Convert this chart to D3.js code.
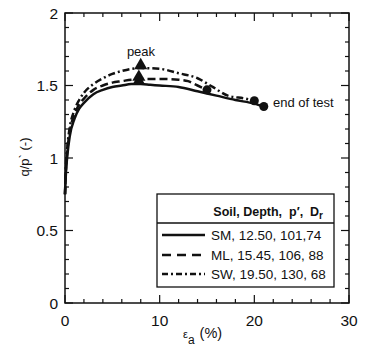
<!DOCTYPE html>
<html><head><meta charset="utf-8">
<script src="https://cdn.jsdelivr.net/npm/d3@7"></script>
<style>body{margin:0;background:#fff}svg{display:block}text{font-family:"Liberation Sans",Arial,sans-serif;fill:#111}</style>
</head><body>
<script>
const strainSM = [0,0.1,0.25,0.5,1,1.5,2,3,4,5,6,7,8,9,10,12,14,16,18,20,21];
const qpSM     = [0.75,0.9,1.02,1.15,1.27,1.34,1.38,1.44,1.47,1.49,1.50,1.51,1.51,1.505,1.50,1.49,1.46,1.43,1.40,1.375,1.355];
const strainML = [0,0.1,0.25,0.5,1,1.5,2,3,4,5,6,7,8,10,12,13,14,15];
const qpML     = [0.75,0.92,1.05,1.18,1.30,1.37,1.41,1.47,1.50,1.52,1.53,1.54,1.545,1.545,1.54,1.53,1.50,1.47];
const strainSW = [0,0.1,0.25,0.5,1,1.5,2,3,4,5,6,7,8,10,12,14,15.6,17.2,19,20];
const qpSW     = [0.75,0.95,1.08,1.21,1.33,1.40,1.45,1.51,1.55,1.58,1.60,1.615,1.62,1.615,1.585,1.55,1.49,1.43,1.41,1.395];
const peakStrain = [7.8,7.8,8.0];
const peakQp = [1.515,1.545,1.625];
const endStrain = [21,15,20];
const endQp = [1.355,1.47,1.395];
const seriesNames = ["SM, 12.50, 101,74","ML, 15.45, 106, 88","SW, 19.50, 130, 68"];
const xTicks = [0,10,20,30];
const yTicks = [0,0.5,1,1.5,2];
const yTickLabels = ["0","0.5","1","1.5","2"];

const W=366,H=364;
const svg=d3.select("body").append("svg").attr("width",W).attr("height",H);
const x=d3.scaleLinear().domain([0,30]).range([65,349]);
const y=d3.scaleLinear().domain([0,2]).range([303,13]);

const g=svg.append("g");
const xMinor=d3.range(0,30.001,2);
const yMinor=d3.range(0,2.0001,0.1);
const tk=g.append("g").attr("stroke","#111").attr("stroke-width",1.2);
xMinor.forEach(v=>{
  const major = xTicks.some(t=>Math.abs(t-v)<1e-6);
  const L = major?8:4;
  tk.append("line").attr("x1",x(v)).attr("x2",x(v)).attr("y1",y(0)).attr("y2",y(0)-L);
  tk.append("line").attr("x1",x(v)).attr("x2",x(v)).attr("y1",y(2)).attr("y2",y(2)+L);
});
yMinor.forEach(v=>{
  const major = yTicks.some(t=>Math.abs(t-v)<1e-6);
  const L = major?8:4;
  tk.append("line").attr("y1",y(v)).attr("y2",y(v)).attr("x1",x(0)).attr("x2",x(0)+L);
  tk.append("line").attr("y1",y(v)).attr("y2",y(v)).attr("x1",x(30)).attr("x2",x(30)-L);
});
g.append("rect").attr("x",x(0)).attr("y",y(2)).attr("width",x(30)-x(0)).attr("height",y(0)-y(2))
  .attr("fill","none").attr("stroke","#111").attr("stroke-width",1.5);

xTicks.forEach(v=>{
  g.append("text").attr("x",x(v)).attr("y",326).attr("text-anchor","middle").attr("font-size",15.5).text(v);
});
yTicks.forEach((v,i)=>{
  g.append("text").attr("x",58).attr("y",y(v)+5.5).attr("text-anchor","end").attr("font-size",15.5).text(yTickLabels[i]);
});

svg.append("text").attr("transform","translate(29,157) rotate(-90)").attr("text-anchor","middle")
  .attr("font-size",13).text("q/p` (-)");
const xl=svg.append("text").attr("x",183).attr("y",338).attr("font-size",14.5);
xl.append("tspan").attr("font-size",11).text("\u03B5");
xl.append("tspan").attr("dy",6).attr("font-size",12).text("a");
xl.append("tspan").attr("dy",-6).attr("dx",5).text("(%)");

const line=d3.line().x(d=>x(d[0])).y(d=>y(d[1])).curve(d3.curveMonotoneX);
const dashes=[null,"8,4","7,3,2,3"];
const legendDashes=[null,"9,6","6,3,2,3"];
const data=[d3.zip(strainSM,qpSM),d3.zip(strainML,qpML),d3.zip(strainSW,qpSW)];
data.forEach((d,i)=>{
  svg.append("path").attr("d",line(d)).attr("fill","none").attr("stroke","#111")
    .attr("stroke-width",2.5).attr("stroke-dasharray",dashes[i]);
});
const tri=d3.symbol().type(d3.symbolTriangle).size(75);
peakStrain.forEach((s,i)=>{
  svg.append("path").attr("d",tri()).attr("transform",`translate(${x(s)},${y(peakQp[i])-2})`).attr("fill","#111");
});
endStrain.forEach((s,i)=>{
  svg.append("circle").attr("cx",x(s)).attr("cy",y(endQp[i])).attr("r",4.5).attr("fill","#111");
});
svg.append("text").attr("x",141).attr("y",56).attr("text-anchor","middle").attr("font-size",13).text("peak");
svg.append("text").attr("x",273).attr("y",107).attr("font-size",13).text("end of test");

const lg=svg.append("g");
lg.append("rect").attr("x",157).attr("y",194).attr("width",177).attr("height",93).attr("fill","#fff").attr("stroke","#111").attr("stroke-width",1.3);
lg.append("line").attr("x1",157).attr("x2",334).attr("y1",223).attr("y2",223).attr("stroke","#111").attr("stroke-width",1.3);
const hdr=lg.append("text").attr("x",323).attr("y",216).attr("text-anchor","end").attr("font-size",12.5)
  .attr("font-weight","bold").style("white-space","pre");
hdr.append("tspan").text("Soil, Depth,  p\u2032,  D");
hdr.append("tspan").attr("dy",3).attr("font-size",10).text("r");
const rowY=[235,255,274];
seriesNames.forEach((n,i)=>{
  lg.append("line").attr("x1",162).attr("x2",205).attr("y1",rowY[i]).attr("y2",rowY[i])
    .attr("stroke","#111").attr("stroke-width",2.6).attr("stroke-dasharray",legendDashes[i]);
  lg.append("text").attr("x",211).attr("y",rowY[i]+5).attr("font-size",13.5).text(n);
});
</script>
</body></html>
